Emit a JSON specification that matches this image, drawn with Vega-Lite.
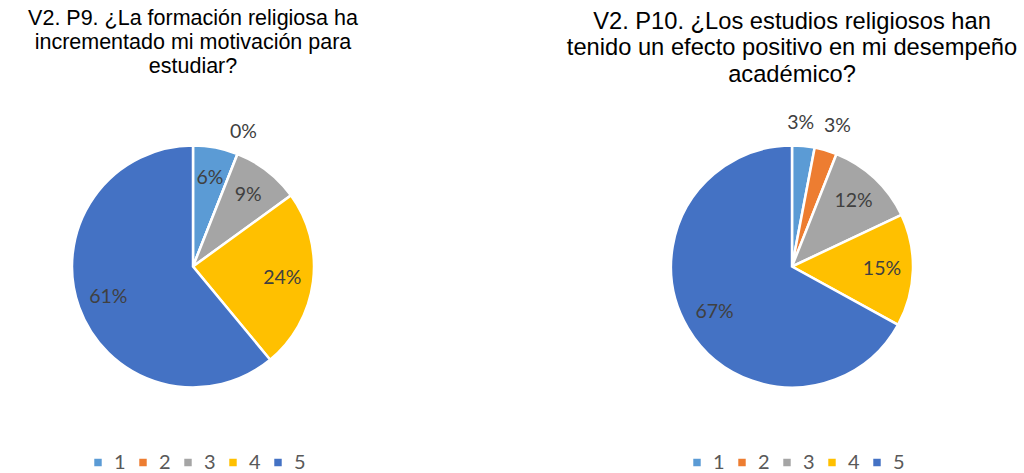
{
  "$schema": "https://vega.github.io/schema/vega-lite/v6.json",
  "padding": {"left": 3, "top": 7.5, "right": 0, "bottom": 0},
  "background": "white",
  "spacing": 183,
  "config": {
    "view": {"stroke": null},
    "font": "Liberation Sans",
    "title": {"font": "Liberation Sans", "fontSize": 21.5, "fontWeight": "normal", "color": "#000000", "lineHeight": 24, "offset": 12, "anchor": "middle"},
    "legend": {"orient": "none", "legendX": 85, "legendY": 363, "direction": "horizontal", "symbolType": "square", "symbolSize": 80, "labelFont": "Lato", "labelFontSize": 20, "labelColor": "#595959", "title": null, "columnPadding": 7, "labelOffset": 6}
  },
  "resolve": {"legend": {"color": "independent"}},
  "hconcat": [
    {
      "title": {"text": ["V2. P9. ¿La formación religiosa ha", "incrementado mi motivación para", "estudiar?"]},
      "width": 380,
      "height": 354,
      "data": {"values": [
        {"cat": "1", "v": 0.06},
        {"cat": "2", "v": 0.0},
        {"cat": "3", "v": 0.09},
        {"cat": "4", "v": 0.24},
        {"cat": "5", "v": 0.61}
      ]},
      "encoding": {
        "theta": {"field": "v", "type": "quantitative", "stack": true},
        "order": {"field": "cat", "type": "ordinal"},
        "color": {"field": "cat", "type": "nominal", "scale": {"domain": ["1","2","3","4","5"], "range": ["#5B9BD5","#ED7D31","#A5A5A5","#FFC000","#4472C4"]}}
      },
      "layer": [
        {"mark": {"type": "arc", "outerRadius": 121, "stroke": "white", "strokeWidth": 2.5}},
        {"mark": {"type": "text", "radius": 90, "font": "Lato", "fontSize": 19.5},
         "encoding": {"text": {"field": "v", "type": "quantitative", "format": ".0%"}, "opacity": {"condition": {"test": "datum.v < 0.05", "value": 0}, "value": 1}, "color": {"value": "#404040"}}},
        {"mark": {"type": "text", "radius": 145, "font": "Lato", "fontSize": 19.5, "dx": -3},
         "encoding": {"text": {"field": "v", "type": "quantitative", "format": ".0%"}, "opacity": {"condition": {"test": "datum.v < 0.05", "value": 1}, "value": 0}, "color": {"value": "#404040"}}}
      ]
    },
    {
      "title": {"text": ["V2. P10. ¿Los estudios religiosos han", "tenido un efecto positivo en mi desempeño", "académico?"], "fontSize": 23.7, "lineHeight": 26.5, "offset": 3},
      "width": 380,
      "height": 354,
      "data": {"values": [
        {"cat": "1", "v": 0.03},
        {"cat": "2", "v": 0.03},
        {"cat": "3", "v": 0.12},
        {"cat": "4", "v": 0.15},
        {"cat": "5", "v": 0.67}
      ]},
      "encoding": {
        "theta": {"field": "v", "type": "quantitative", "stack": true},
        "order": {"field": "cat", "type": "ordinal"},
        "color": {"field": "cat", "type": "nominal", "scale": {"domain": ["1","2","3","4","5"], "range": ["#5B9BD5","#ED7D31","#A5A5A5","#FFC000","#4472C4"]}}
      },
      "layer": [
        {"mark": {"type": "arc", "outerRadius": 121, "stroke": "white", "strokeWidth": 2.5}},
        {"mark": {"type": "text", "radius": 90, "font": "Lato", "fontSize": 19.5},
         "encoding": {"text": {"field": "v", "type": "quantitative", "format": ".0%"}, "opacity": {"condition": {"test": "datum.v < 0.05", "value": 0}, "value": 1}, "color": {"value": "#404040"}}},
        {"mark": {"type": "text", "radius": 145, "font": "Lato", "fontSize": 19.5, "dx": -5, "dy": 1},
         "encoding": {"text": {"field": "v", "type": "quantitative", "format": ".0%"}, "opacity": {"condition": {"test": "datum.v < 0.05 && datum.cat == '1'", "value": 1}, "value": 0}, "color": {"value": "#404040"}}},
        {"mark": {"type": "text", "radius": 145, "font": "Lato", "fontSize": 19.5, "dx": 5, "dy": -1},
         "encoding": {"text": {"field": "v", "type": "quantitative", "format": ".0%"}, "opacity": {"condition": {"test": "datum.v < 0.05 && datum.cat == '2'", "value": 1}, "value": 0}, "color": {"value": "#404040"}}}
      ]
    }
  ]
}
